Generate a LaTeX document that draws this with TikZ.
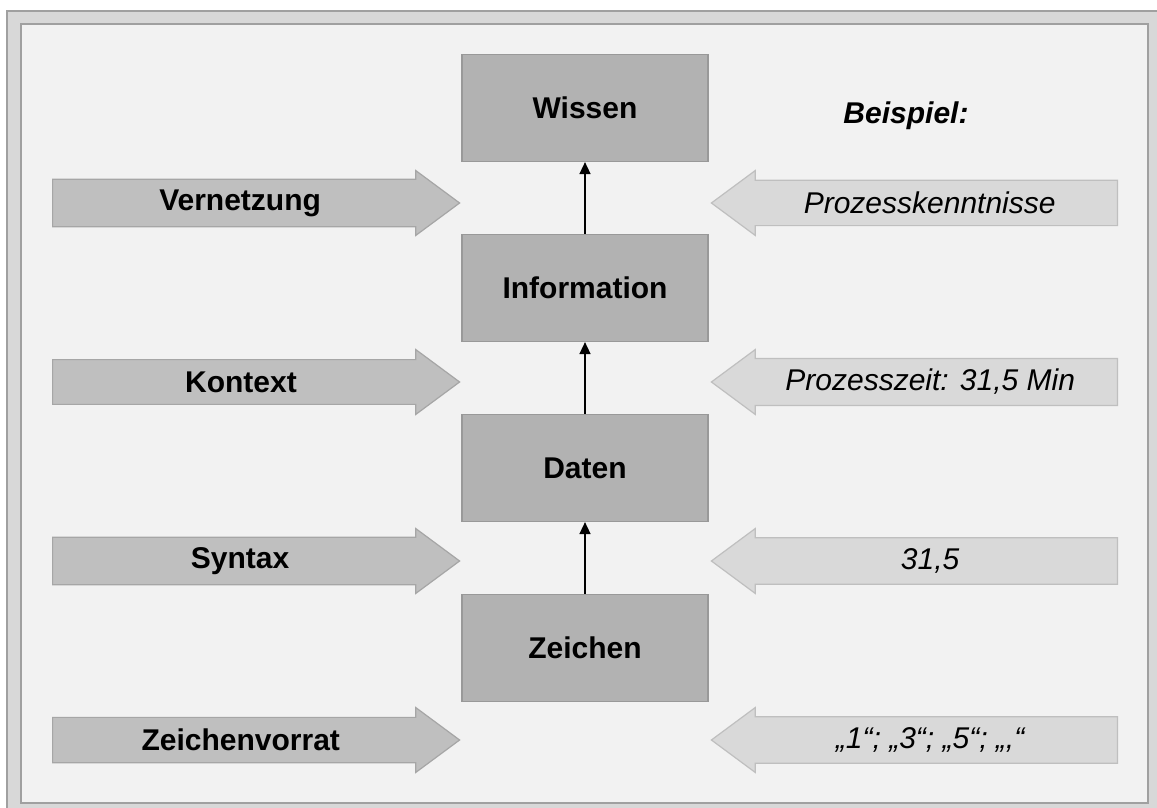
\documentclass[tikz,border=0pt]{standalone}
\usepackage{fontspec}
\setmainfont{Liberation Sans}
\usepackage{xcolor}
\usetikzlibrary{arrows.meta, shapes.arrows, positioning}

\definecolor{rahmen}{HTML}{D8D8D8}
\definecolor{rahmenlinie}{HTML}{A0A0A0}
\definecolor{grund}{HTML}{F2F2F2}
\definecolor{stufegrau}{HTML}{B2B2B2}
\definecolor{stufelinie}{HTML}{999999}
\definecolor{linksgrau}{HTML}{BFBFBF}
\definecolor{linkslinie}{HTML}{A6A6A6}
\definecolor{rechtsgrau}{HTML}{D9D9D9}
\definecolor{rechtslinie}{HTML}{BFBFBF}

\begin{document}
\begin{tikzpicture}[
    x=1pt, y=1pt,
    node distance=180pt,
    >={Triangle[length=12pt,width=11pt]},
    every node/.style={font=\fontsize{30}{36}\selectfont},
    stufe/.style={rectangle, draw=stufelinie, fill=stufegrau, line width=1.2pt,
        minimum width=246pt, minimum height=107pt,
        font=\fontsize{30}{36}\selectfont\bfseries},
    links/.style={single arrow, draw=linkslinie, fill=linksgrau, line width=1.2pt,
        minimum width=65pt, minimum height=407pt, single arrow head extend=6.5pt,
        single arrow tip angle=73, anchor=tail,
        font=\fontsize{30}{36}\selectfont\bfseries},
    rechts/.style={single arrow, shape border rotate=180, draw=rechtslinie,
        fill=rechtsgrau, line width=1.2pt,
        minimum width=65pt, minimum height=406pt, single arrow head extend=6.5pt,
        single arrow tip angle=73, anchor=tail,
        font=\fontsize{30}{36}\selectfont\itshape}
]

% Frame
\useasboundingbox (0,0) rectangle (1157,807);
\draw[fill=rahmen, draw=rahmenlinie, line width=1.5pt] (7,796) rectangle (1175,-20);
\draw[fill=grund, draw=rahmenlinie, line width=1.5pt] (21,783) rectangle (1148,4);

% Stufen
\node[stufe] (zeichen) at (585,159) {Zeichen};
\node[stufe, above of=zeichen] (daten) {Daten};
\node[stufe, above of=daten] (information) {Information};
\node[stufe, above of=information] (wissen) {Wissen};

% Arrows between levels
\draw[->, line width=1.5pt] (zeichen.north) -- (daten.south);
\draw[->, line width=1.5pt] (daten.north) -- (information.south);
\draw[->, line width=1.5pt] (information.north) -- (wissen.south);

% Left arrows
\node[links] (vernetzung) at (52,604) {Vernetzung};
\node[links] (kontext) at (52,425) {Kontext};
\node[links] (syntax) at (52,246) {Syntax};
\node[links] (vorrat) at (52,67) {Zeichenvorrat};

% Example arrows
\node[font=\fontsize{30}{36}\selectfont\bfseries\itshape] (beispiel) at (906,691) {Beispiel:};
\node[rechts] (kenntnisse) at (1118,604) {Prozesskenntnisse};
\node[rechts] (zeit) at (1118,425) {Prozesszeit: 31,5 Min};
\node[rechts] (wert) at (1118,246) {31,5};
\node[rechts] (ziffern) at (1118,67) {„1“; „3“; „5“; „,“};

\end{tikzpicture}
\end{document}
